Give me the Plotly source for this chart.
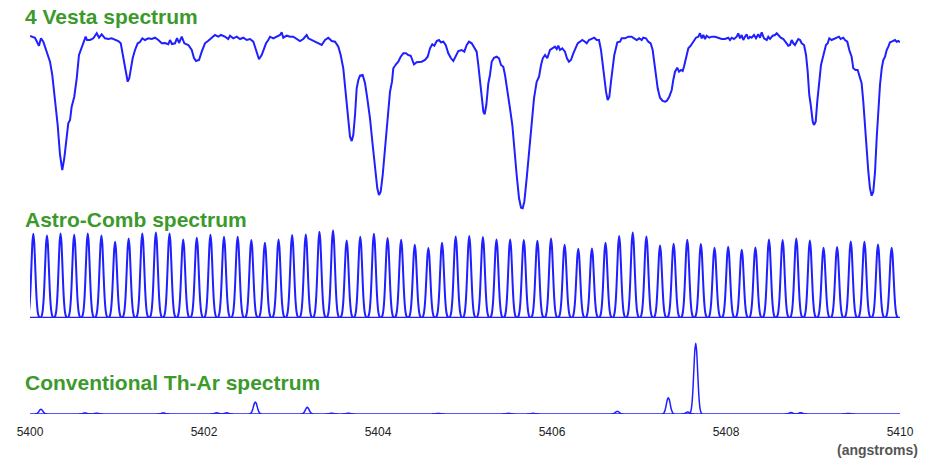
import numpy as np
import plotly.graph_objects as go

# ---------------- data ----------------
WAVE_START = 5400.0  # angstroms

# 4 Vesta spectrum: wavelength offset from 5400 A, relative flux (arbitrary units)
vesta_dlam = [
    0.000, 0.057, 0.103, 0.126, 0.153, 0.192, 0.230, 0.256, 0.287, 0.318, 0.345, 0.371, 0.394, 0.417,
    0.440, 0.460, 0.479, 0.509, 0.537, 0.563, 0.586, 0.613, 0.640, 0.655, 0.690, 0.728, 0.767, 0.793,
    0.824, 0.862, 0.900, 0.939, 0.977, 1.015, 1.043, 1.061, 1.084, 1.103, 1.123, 1.141, 1.161, 1.180,
    1.207, 1.238, 1.264, 1.291, 1.322, 1.360, 1.399, 1.437, 1.475, 1.514, 1.552, 1.590, 1.609, 1.632,
    1.667, 1.690, 1.713, 1.744, 1.774, 1.820, 1.859, 1.885, 1.908, 1.943, 1.974, 2.011, 2.046, 2.089,
    2.126, 2.164, 2.195, 2.241, 2.279, 2.299, 2.337, 2.376, 2.414, 2.452, 2.491, 2.529, 2.567, 2.586,
    2.606, 2.632, 2.663, 2.682, 2.713, 2.739, 2.759, 2.797, 2.836, 2.874, 2.893, 2.911, 2.951, 2.989,
    3.026, 3.066, 3.103, 3.141, 3.180, 3.199, 3.238, 3.276, 3.314, 3.353, 3.391, 3.429, 3.468, 3.506,
    3.544, 3.571, 3.601, 3.632, 3.659, 3.678, 3.698, 3.716, 3.736, 3.755, 3.774, 3.793, 3.824, 3.851,
    3.877, 3.908, 3.939, 3.966, 3.992, 4.011, 4.031, 4.054, 4.080, 4.107, 4.138, 4.161, 4.176, 4.207,
    4.233, 4.261, 4.291, 4.322, 4.348, 4.376, 4.399, 4.414, 4.445, 4.463, 4.502, 4.540, 4.571, 4.598,
    4.624, 4.647, 4.675, 4.701, 4.724, 4.751, 4.778, 4.808, 4.839, 4.866, 4.893, 4.923, 4.962, 4.992,
    5.020, 5.046, 5.077, 5.107, 5.134, 5.153, 5.172, 5.192, 5.211, 5.226, 5.245, 5.268, 5.287, 5.307,
    5.333, 5.364, 5.391, 5.414, 5.440, 5.460, 5.491, 5.517, 5.544, 5.567, 5.594, 5.621, 5.644, 5.663,
    5.682, 5.709, 5.736, 5.767, 5.793, 5.824, 5.851, 5.874, 5.894, 5.920, 5.946, 5.977, 6.003, 6.034,
    6.054, 6.072, 6.092, 6.118, 6.149, 6.172, 6.195, 6.218, 6.245, 6.272, 6.295, 6.322, 6.348, 6.379,
    6.399, 6.425, 6.456, 6.486, 6.514, 6.540, 6.563, 6.579, 6.601, 6.621, 6.640, 6.659, 6.678, 6.697,
    6.716, 6.751, 6.782, 6.801, 6.839, 6.877, 6.916, 6.943, 6.974, 7.003, 7.031, 7.049, 7.080, 7.107,
    7.134, 7.157, 7.176, 7.195, 7.215, 7.241, 7.272, 7.299, 7.318, 7.348, 7.376, 7.394, 7.414, 7.440,
    7.460, 7.483, 7.502, 7.517, 7.540, 7.567, 7.594, 7.624, 7.655, 7.682, 7.701, 7.721, 7.739, 7.759,
    7.778, 7.808, 7.836, 7.874, 7.911, 7.951, 7.989, 8.026, 8.046, 8.066, 8.092, 8.123, 8.141, 8.161,
    8.180, 8.199, 8.218, 8.238, 8.256, 8.276, 8.295, 8.322, 8.345, 8.371, 8.391, 8.410, 8.437, 8.468,
    8.486, 8.506, 8.537, 8.563, 8.583, 8.601, 8.629, 8.659, 8.690, 8.716, 8.736, 8.755, 8.774, 8.793,
    8.813, 8.831, 8.851, 8.870, 8.897, 8.920, 8.939, 8.957, 8.974, 8.997, 9.011, 9.031, 9.049, 9.072,
    9.092, 9.111, 9.130, 9.149, 9.169, 9.187, 9.214, 9.241, 9.272, 9.299, 9.318, 9.348, 9.368, 9.394,
    9.417, 9.444, 9.463, 9.490, 9.513, 9.532, 9.559, 9.578, 9.598, 9.617, 9.636, 9.655, 9.674, 9.693,
    9.713, 9.732, 9.751, 9.770, 9.790, 9.808, 9.828, 9.847, 9.866, 9.885, 9.904, 9.923, 9.943, 9.962,
    9.981, 10.000,
]
vesta_flux = [
    214.0, 212.3, 204.3, 211.7, 208.3, 198.3, 188.3, 175.0, 151.7, 125.0, 95.0, 80.0, 91.7, 111.7,
    126.7, 130.0, 143.3, 153.3, 171.7, 195.0, 200.0, 206.7, 213.3, 210.0, 210.0, 211.7, 216.7, 212.3,
    215.7, 211.7, 211.0, 211.7, 210.0, 209.0, 206.7, 198.3, 185.0, 175.0, 168.3, 171.7, 181.7, 191.7,
    200.0, 206.7, 208.0, 211.7, 210.0, 211.7, 211.0, 212.3, 210.0, 206.7, 207.0, 205.7, 210.0, 206.0,
    206.7, 212.0, 207.0, 213.3, 206.7, 205.0, 200.0, 192.0, 189.0, 190.0, 198.3, 206.7, 209.0, 212.3,
    215.0, 213.3, 215.0, 213.3, 211.0, 214.3, 211.7, 213.3, 211.0, 212.3, 210.0, 211.0, 208.3, 203.3,
    196.7, 190.7, 195.0, 200.0, 206.7, 210.0, 213.3, 211.7, 213.3, 215.0, 217.7, 212.3, 214.3, 213.3,
    213.3, 211.0, 209.0, 211.0, 215.0, 211.7, 210.0, 208.3, 206.7, 205.0, 210.0, 212.3, 209.0, 208.3,
    203.3, 195.0, 181.7, 155.0, 128.3, 113.3, 109.0, 115.0, 135.0, 161.7, 170.0, 174.3, 175.0, 166.7,
    151.7, 131.7, 105.0, 81.7, 61.7, 55.0, 58.3, 75.0, 101.7, 131.7, 158.3, 168.3, 181.7, 185.7,
    188.3, 193.3, 196.7, 196.7, 195.0, 194.3, 188.3, 185.7, 187.7, 187.7, 188.3, 190.0, 193.3, 201.7,
    205.7, 204.3, 209.0, 210.0, 207.7, 208.3, 205.0, 196.7, 191.7, 189.0, 193.3, 199.0, 200.0, 198.3,
    205.0, 208.3, 206.7, 201.7, 198.3, 185.0, 171.7, 151.7, 138.3, 135.7, 145.0, 166.7, 175.0, 188.3,
    192.3, 193.3, 191.7, 185.0, 183.3, 175.0, 158.3, 141.7, 125.0, 98.3, 75.0, 51.7, 42.3, 41.7,
    48.3, 71.7, 98.3, 128.3, 151.7, 168.3, 173.3, 185.0, 191.7, 195.0, 191.7, 200.0, 201.7, 203.3,
    201.0, 204.3, 200.0, 201.7, 198.3, 191.7, 188.3, 190.0, 196.7, 201.7, 206.7, 208.3, 210.0, 208.3,
    206.7, 210.0, 211.0, 212.3, 210.0, 210.0, 200.0, 188.3, 171.7, 158.3, 150.0, 153.3, 168.3, 185.0,
    195.0, 207.7, 208.3, 211.7, 211.7, 213.3, 213.3, 211.7, 210.0, 211.7, 210.0, 212.3, 211.7, 208.3,
    206.7, 200.0, 188.3, 175.0, 161.7, 152.3, 149.0, 148.3, 149.0, 153.3, 160.0, 170.0, 178.3, 182.3,
    178.3, 180.0, 179.0, 183.3, 193.3, 201.7, 204.3, 209.0, 212.3, 213.3, 216.7, 211.7, 215.0, 211.0,
    214.3, 212.3, 213.3, 213.3, 212.3, 211.0, 211.0, 212.3, 210.0, 212.3, 211.0, 213.3, 216.7, 211.7,
    215.0, 210.0, 213.3, 215.7, 211.0, 213.3, 212.3, 215.0, 211.7, 215.7, 212.3, 217.7, 211.7, 210.0,
    213.3, 211.0, 214.3, 215.0, 216.7, 215.0, 212.3, 211.0, 206.7, 204.3, 205.0, 210.0, 206.7, 205.0,
    208.3, 211.0, 210.0, 206.7, 205.0, 195.0, 178.3, 155.0, 145.0, 128.3, 125.0, 128.3, 148.3, 168.3,
    185.0, 191.7, 200.0, 205.0, 206.7, 211.7, 210.0, 211.0, 212.3, 213.3, 211.0, 212.3, 210.0, 208.3,
    200.0, 193.3, 181.7, 180.0, 180.0, 175.0, 166.7, 148.3, 121.7, 98.3, 78.3, 61.7, 54.3, 58.3,
    78.3, 111.7, 145.0, 165.0, 181.7, 190.0, 193.3, 200.0, 203.3, 207.7, 208.3, 209.0, 210.0, 208.3,
    209.0, 207.7,
]

# Astro-Comb: line centres (offset from 5400 A) and peak heights
comb_dlam = [
    0.038, 0.195, 0.351, 0.508, 0.664, 0.821, 0.978, 1.134, 1.291, 1.447, 1.604, 1.761, 1.917, 2.074,
    2.230, 2.387, 2.544, 2.700, 2.857, 3.013, 3.170, 3.327, 3.483, 3.640, 3.796, 3.953, 4.110, 4.266,
    4.423, 4.579, 4.736, 4.893, 5.049, 5.206, 5.362, 5.519, 5.676, 5.832, 5.989, 6.145, 6.302, 6.459,
    6.615, 6.772, 6.928, 7.085, 7.242, 7.398, 7.555, 7.711, 7.868, 8.025, 8.181, 8.338, 8.494, 8.651,
    8.808, 8.964, 9.121, 9.277, 9.434, 9.591, 9.747, 9.904,
]
comb_height = [
    84.0, 82.3, 84.3, 83.0, 84.3, 82.3, 76.0, 79.3, 84.3, 85.3, 84.3, 78.3, 80.0, 83.0,
    81.0, 81.0, 77.6, 75.0, 78.3, 82.6, 83.3, 86.0, 87.3, 77.3, 81.0, 84.0, 79.6, 78.0,
    73.0, 69.6, 75.0, 81.3, 81.6, 80.6, 78.3, 78.3, 77.6, 77.0, 79.3, 73.0, 69.0, 69.3,
    75.0, 81.6, 85.3, 81.3, 72.3, 74.0, 78.0, 73.6, 70.0, 71.0, 68.0, 70.3, 78.3, 77.6,
    79.3, 77.3, 70.0, 70.6, 76.3, 76.0, 73.3, 70.0,
]

# Conventional Th-Ar: line centres (offset from 5400 A) and peak heights
thar_dlam = [0.126, 0.632, 0.767, 1.532, 2.146, 2.261, 2.590, 3.187, 3.468, 3.659, 4.693,
             5.498, 5.785, 6.751, 7.337, 7.560, 7.652, 8.747, 8.859, 9.406]
thar_height = [4.7, 1.0, 0.8, 1.0, 1.2, 1.2, 12.0, 6.7, 0.8, 0.8, 0.6,
               0.7, 0.7, 2.7, 16.3, 2.0, 70.7, 1.5, 1.3, 0.6]

profile_dlam = [-0.072, -0.060, -0.050, -0.040, -0.030, -0.020, -0.010, 0.0,
                0.010, 0.020, 0.030, 0.040, 0.050, 0.060, 0.072]
profile_rel = [0.0, 0.024, 0.076, 0.192, 0.395, 0.662, 0.902, 1.0,
               0.902, 0.662, 0.395, 0.192, 0.076, 0.024, 0.0]

tick_vals = [5400, 5402, 5404, 5406, 5408, 5410]
titles = ["4 Vesta spectrum", "Astro-Comb spectrum", "Conventional Th-Ar spectrum"]

# ---------------- build traces ----------------
BLUE = "#1f1fff"
GREEN = "#3b9a2b"


def line_trace(centres, heights):
    xs, ys = [WAVE_START, WAVE_START + 10.0], [0.0, 0.0]
    for c, h in zip(centres, heights):
        xs.append(None)
        ys.append(None)
        for o, r in zip(profile_dlam, profile_rel):
            xs.append(WAVE_START + c + o)
            ys.append(h * r)
    return xs, ys


fig = go.Figure()
fig.add_trace(go.Scatter(
    x=[WAVE_START + d for d in vesta_dlam], y=vesta_flux, mode="lines",
    line=dict(color=BLUE, width=2), xaxis="x", yaxis="y3", hoverinfo="skip"))

cx, cy = line_trace(comb_dlam, comb_height)
fig.add_trace(go.Scatter(x=cx, y=cy, mode="lines", line=dict(color=BLUE, width=2, shape="spline", smoothing=0.6),
                         xaxis="x", yaxis="y2", hoverinfo="skip", connectgaps=False))

tx, ty = line_trace(thar_dlam, thar_height)
fig.add_trace(go.Scatter(x=tx, y=ty, mode="lines", line=dict(color=BLUE, width=1.5, shape="spline", smoothing=0.6),
                         xaxis="x", yaxis="y", hoverinfo="skip", connectgaps=False))

# plot area: x 30..900 px, y 30..414 px (384 px tall); page body margin removed below
H = 384.0
hidden = dict(visible=False, fixedrange=True)
fig.update_layout(
    width=945, height=459,
    margin=dict(l=30, r=45, t=30, b=45),
    paper_bgcolor="white", plot_bgcolor="white",
    showlegend=False,
    xaxis=dict(range=[5400, 5410], tickvals=tick_vals, ticktext=[str(v) for v in tick_vals],
               showgrid=False, zeroline=False, showline=False, ticks="outside", ticklen=7,
               tickcolor="rgba(0,0,0,0)", tickfont=dict(family="Liberation Sans, Arial", size=12, color="#222"),
               anchor="y", fixedrange=True),
    yaxis=dict(domain=[0, 0.3], range=[0, 0.3 * H], **hidden),
    yaxis2=dict(domain=[0.25, 0.5], range=[-0.3, 0.25 * H - 0.3], **hidden),
    yaxis3=dict(domain=[0.45, 1.0], range=[8.8, 220.0], **hidden),
)

title_y = [(414 - 17) / H, (414 - 219) / H, (414 - 382) / H]
for t, yy in zip(titles, title_y):
    fig.add_annotation(text=f"<b>{t}</b>", xref="paper", yref="paper", x=(23 - 30) / 870, y=yy,
                       xanchor="left", yanchor="middle", showarrow=False,
                       font=dict(family="Liberation Sans, Arial", size=21, color=GREEN))

fig.add_annotation(text="<b>(angstroms)</b>", xref="paper", yref="paper", x=(920 - 30) / 870,
                   y=(414 - 450) / H, xanchor="right", yanchor="middle", showarrow=False,
                   font=dict(family="Liberation Sans, Arial", size=14, color="#555"))

fig.write_html("out.html", config={"displayModeBar": False},
               post_script="document.body.style.margin='0';document.body.style.overflow='hidden';")
